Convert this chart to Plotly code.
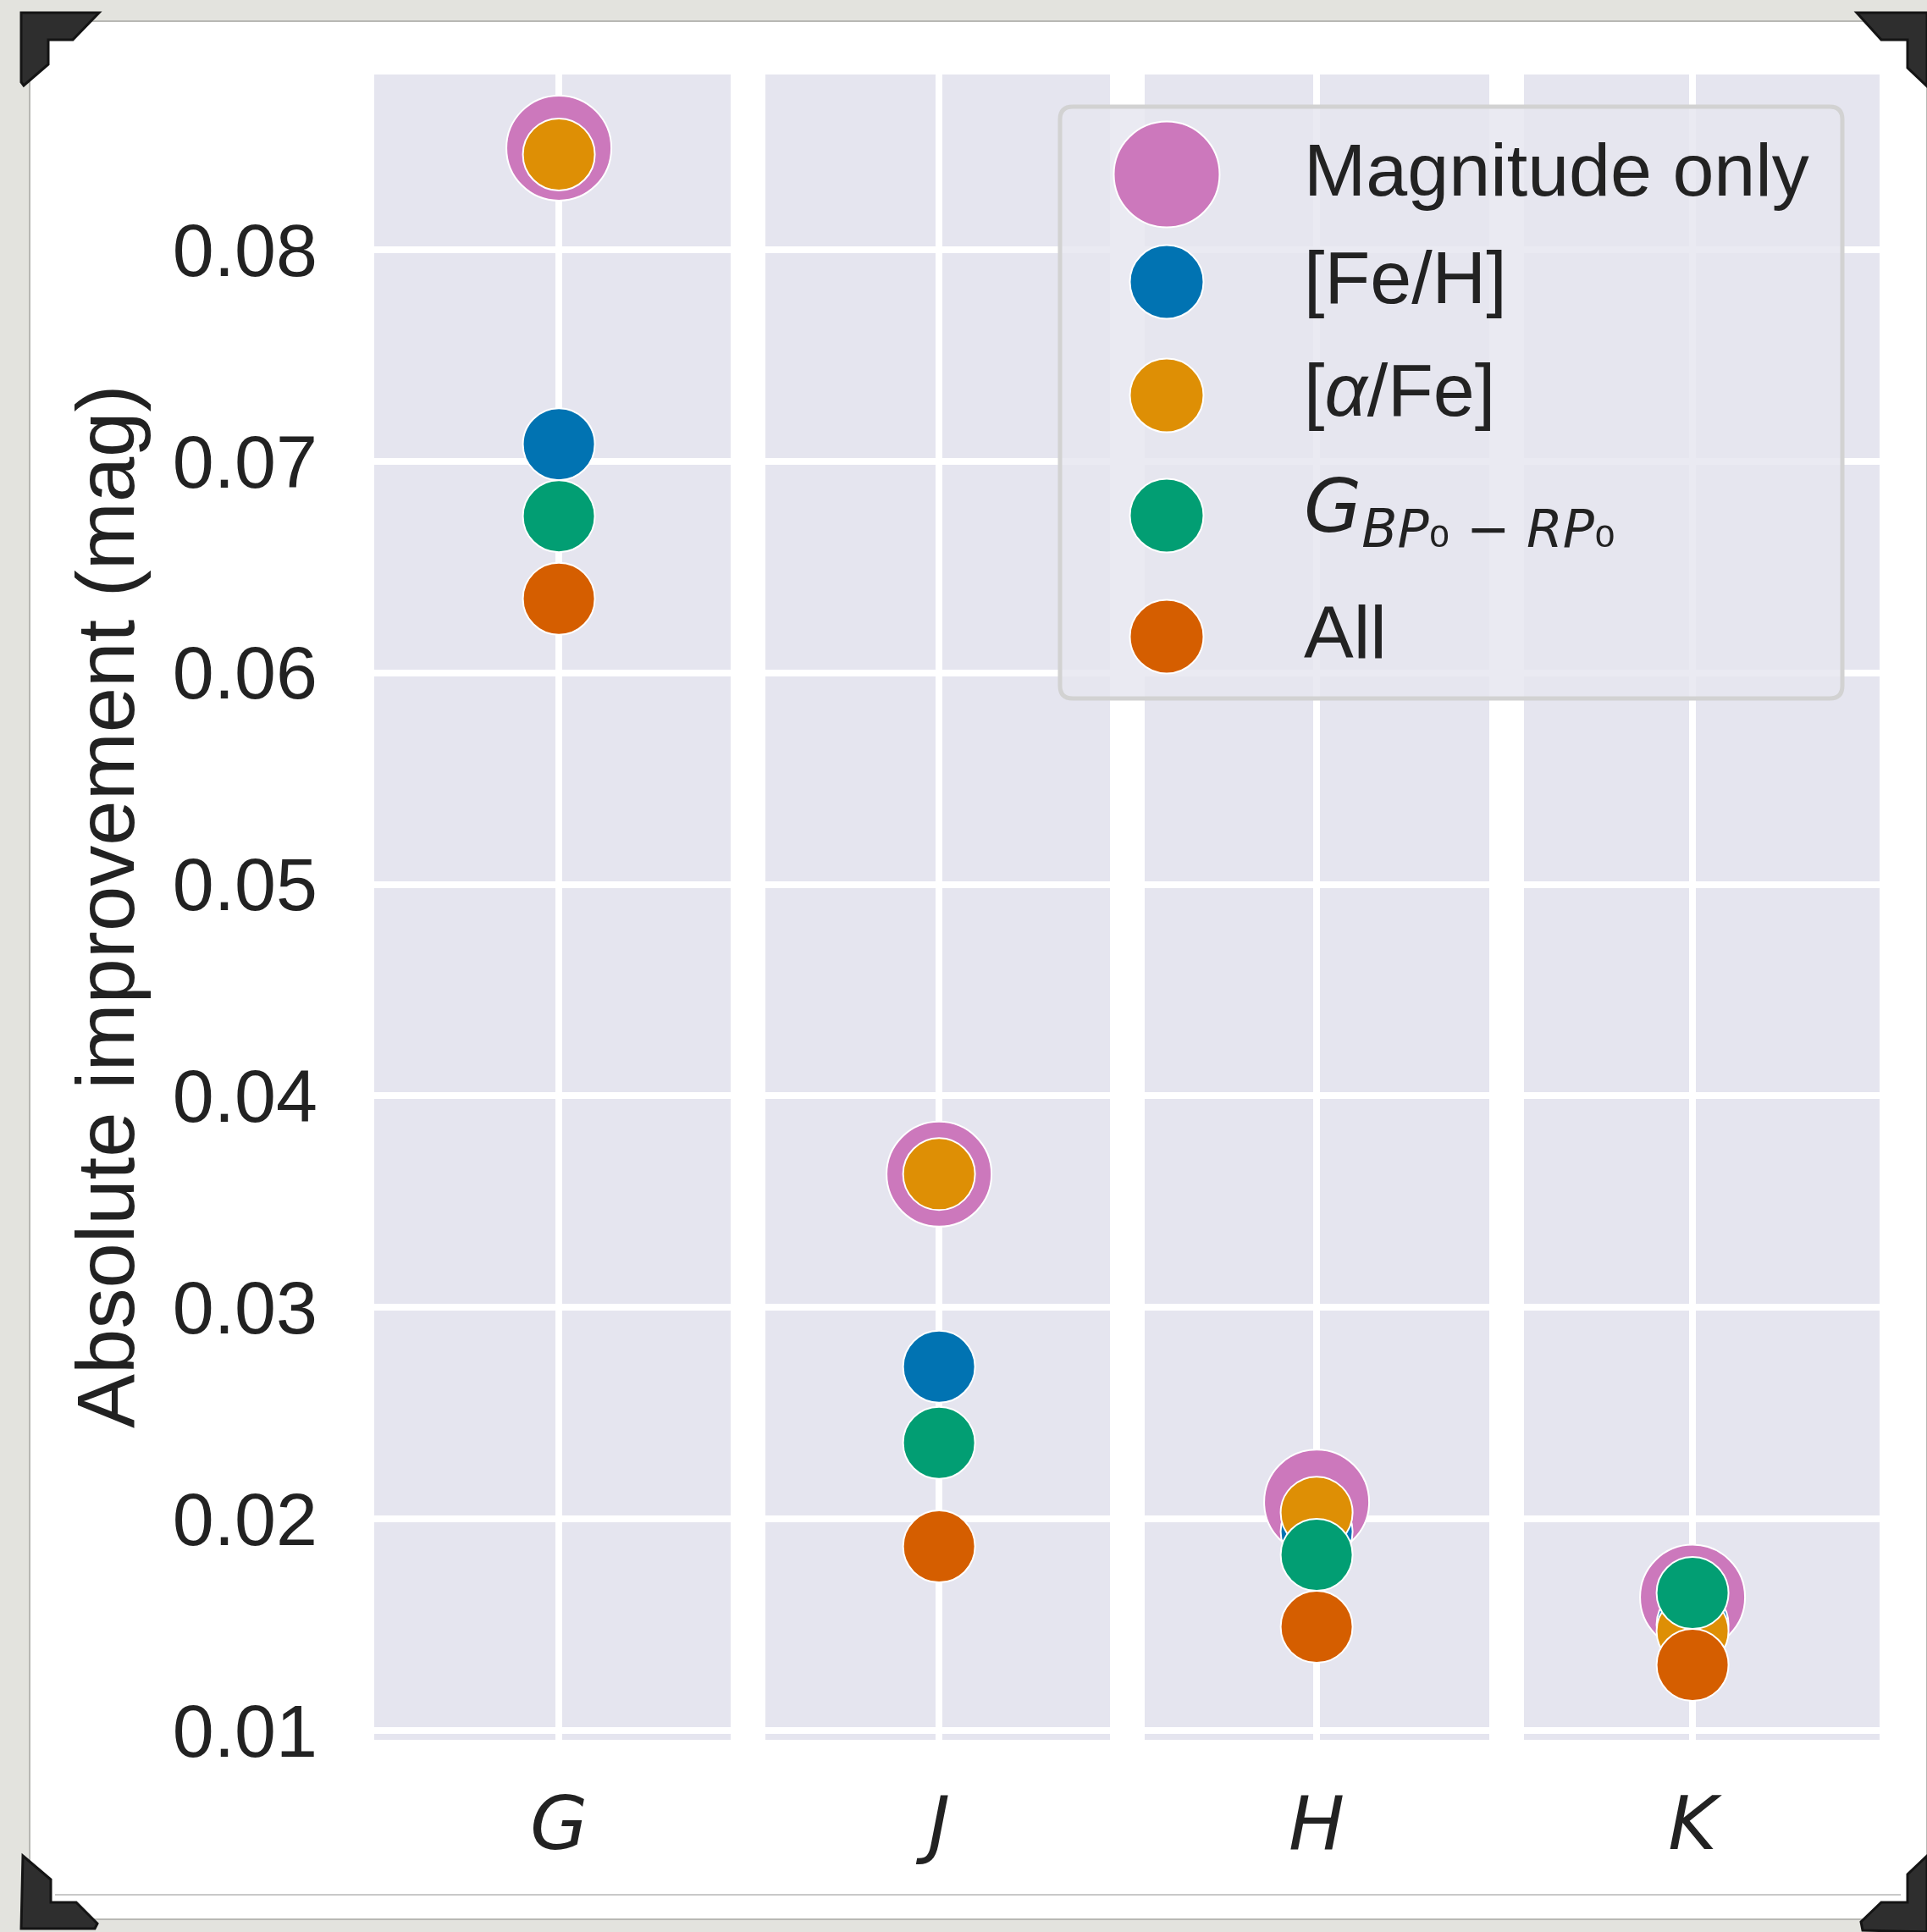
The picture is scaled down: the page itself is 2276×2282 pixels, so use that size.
import plotly.graph_objects as go

# ---------------- data ----------------
bands = ["G", "J", "H", "K"]
band_labels = ["<i>G</i>", "<i>J</i>", "<i>H</i>", "<i>K</i>"]
series_names = ["Magnitude only", "[Fe/H]", "[<i>α</i>/Fe]",
                "<i>G</i><sub><i>BP</i>₀ − <i>RP</i>₀</sub>", "All"]
magnitude_only = [0.0848, 0.0363, 0.0208, 0.0163]
fe_h = [0.0708, 0.0272, 0.0194, 0.0150]
alpha_fe = [0.0845, 0.0363, 0.0203, 0.0147]
g_bp_rp = [0.0674, 0.0236, 0.0183, 0.0165]
all_params = [0.0635, 0.0187, 0.0149, 0.0131]
y_ticks = [0.01, 0.02, 0.03, 0.04, 0.05, 0.06, 0.07, 0.08]
y_range = [0.00956, 0.08828]

series_values = [magnitude_only, fe_h, alpha_fe, g_bp_rp, all_params]
colors = ["#CC78BC", "#0173B2", "#DE8F05", "#029E73", "#D55E00"]
sizes = [124, 85, 85, 85, 85]

W, H = 2276, 2282
def px(x):
    return x / W
def py(y):
    return 1 - y / H

# panel geometry (pixels) and position of the category inside each panel
panels = [(442, 863, 0.518), (904, 1311, 0.504), (1352, 1759, 0.499), (1800, 2220, 0.474)]
y_top, y_bot = 88, 2055

TEXT = "#222222"
FONT = "Liberation Sans"
PANEL_BG = "#e5e5ef"

fig = go.Figure()

for si, (name, vals) in enumerate(zip(series_names, series_values)):
    for bi, band in enumerate(bands):
        xa = "x" if bi == 0 else f"x{bi+1}"
        fig.add_trace(go.Scatter(
            x=[band], y=[vals[bi]], xaxis=xa, yaxis="y",
            mode="markers", name=name, showlegend=False,
            marker=dict(size=sizes[si], color=colors[si],
                        line=dict(color="white", width=2)),
            hoverinfo="x+y+name"))

layout = dict(
    width=W, height=H,
    margin=dict(l=0, r=0, t=0, b=0),
    paper_bgcolor="#e3e3de",
    plot_bgcolor="rgba(0,0,0,0)",
    showlegend=False,
)

for bi, (x0, x1, f) in enumerate(panels):
    key = "xaxis" if bi == 0 else f"xaxis{bi+1}"
    layout[key] = dict(
        domain=[px(x0), px(x1)], anchor="y",
        type="category", range=[-f, 1 - f],
        tickmode="array", tickvals=[bands[bi]], ticktext=[band_labels[bi]],
        showgrid=True, gridcolor="white", gridwidth=8,
        zeroline=False, showline=False, ticks="",
        tickfont=dict(family="DejaVu Sans", size=88, color=TEXT),
        ticklabelstandoff=40, automargin=False, fixedrange=True,
    )

layout["yaxis"] = dict(
    domain=[py(y_bot), py(y_top)], anchor="x",
    range=y_range, tickmode="array", tickvals=y_ticks,
    ticktext=[f"{v:.2f}" for v in y_ticks],
    showgrid=True, gridcolor="white", gridwidth=8,
    zeroline=False, showline=False, ticks="",
    tickfont=dict(family=FONT, size=88, color=TEXT),
    ticklabelstandoff=66, automargin=False, fixedrange=True,
)

shapes = []
# white sheet
shapes.append(dict(type="rect", xref="paper", yref="paper", layer="below",
                   x0=px(35), x1=1, y0=py(2267), y1=py(25),
                   fillcolor="white", line=dict(color="#b8b8b4", width=2)))
# panel backgrounds
for bi in range(4):
    xr = "x domain" if bi == 0 else f"x{bi+1} domain"
    shapes.append(dict(type="rect", xref=xr, yref="y domain", layer="below",
                       x0=0, x1=1, y0=0, y1=1, fillcolor=PANEL_BG,
                       line=dict(width=0)))
# thin line near bottom of sheet
shapes.append(dict(type="line", xref="paper", yref="paper", layer="below",
                   x0=px(65), x1=px(2245), y0=py(2238), y1=py(2238),
                   line=dict(color="#c8c8c8", width=2)))

# custom legend frame
lx0, lx1, ly0, ly1, r = 1252, 2176, 126, 825, 15
path = (f"M {px(lx0+r)},{py(ly0)} L {px(lx1-r)},{py(ly0)} Q {px(lx1)},{py(ly0)} {px(lx1)},{py(ly0+r)} "
        f"L {px(lx1)},{py(ly1-r)} Q {px(lx1)},{py(ly1)} {px(lx1-r)},{py(ly1)} "
        f"L {px(lx0+r)},{py(ly1)} Q {px(lx0)},{py(ly1)} {px(lx0)},{py(ly1-r)} "
        f"L {px(lx0)},{py(ly0+r)} Q {px(lx0)},{py(ly0)} {px(lx0+r)},{py(ly0)} Z")
shapes.append(dict(type="path", xref="paper", yref="paper", layer="above",
                   path=path, fillcolor="rgba(229,229,239,0.82)",
                   line=dict(color="#d2d2d2", width=5)))

annotations = []
leg_rows = [206, 333, 467, 609, 752]
leg_sizes = [125, 87, 87, 87, 87]
for name, c, cy, d in zip(series_names, colors, leg_rows, leg_sizes):
    shapes.append(dict(type="circle", xref="paper", yref="paper", layer="above",
                       x0=px(1378 - d / 2), x1=px(1378 + d / 2),
                       y0=py(cy + d / 2), y1=py(cy - d / 2),
                       fillcolor=c, line=dict(color="white", width=2)))
    fam = "DejaVu Sans" if name.startswith("<i>G") else FONT
    annotations.append(dict(xref="paper", yref="paper", x=px(1538), y=py(cy - 6),
                            xanchor="left", yanchor="middle", showarrow=False,
                            text=name, font=dict(family=fam, size=88, color=TEXT)))

# y-axis title
annotations.append(dict(xref="paper", yref="paper", x=px(124), y=py(1071),
                        xanchor="center", yanchor="middle", showarrow=False,
                        textangle=-90, text="Absolute improvement (mag)",
                        font=dict(family=FONT, size=96, color=TEXT)))

# photo corners (decoration)
def poly(pts):
    s = "M " + " L ".join(f"{px(x)},{py(y)}" for x, y in pts) + " Z"
    return dict(type="path", xref="paper", yref="paper", layer="above", path=s,
                fillcolor="#2e2e2e", line=dict(color="#141414", width=3))

shapes.append(poly([(25, 15), (117, 15), (86, 47), (57, 47), (57, 76), (28, 101), (25, 97)]))
shapes.append(poly([(2193, 15), (2276, 15), (2276, 102), (2253, 80), (2253, 47), (2222, 47)]))
shapes.append(poly([(27, 2192), (60, 2220), (60, 2247), (90, 2247), (115, 2272), (112, 2278), (25, 2278)]))
shapes.append(poly([(2276, 2192), (2276, 2282), (2200, 2280), (2198, 2270), (2222, 2247), (2253, 2247), (2253, 2214)]))

layout["shapes"] = shapes
layout["annotations"] = annotations
fig.update_layout(**layout)

fig.write_html("out.html", config={"displayModeBar": False})
